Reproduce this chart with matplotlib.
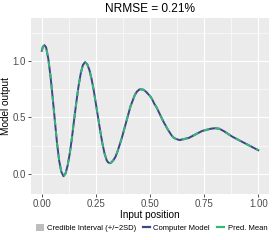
import matplotlib
matplotlib.use("Agg")
import matplotlib.pyplot as plt
from matplotlib.patches import Patch
from matplotlib.lines import Line2D
from matplotlib.ticker import MultipleLocator

plt.rcParams['font.family'] = ['Liberation Sans', 'DejaVu Sans']

# values
input_pos = [0, 0.005, 0.012, 0.02, 0.03, 0.04, 0.05, 0.06, 0.07, 0.08, 0.09, 0.10,
             0.11, 0.12, 0.13, 0.14, 0.15, 0.16, 0.17, 0.18, 0.19, 0.20,
             0.21, 0.22, 0.23, 0.24, 0.25, 0.26, 0.27, 0.28, 0.29, 0.30, 0.305,
             0.313, 0.32, 0.33, 0.34, 0.35, 0.36, 0.37, 0.38, 0.39, 0.40, 0.41,
             0.42, 0.43, 0.44, 0.45, 0.456, 0.47, 0.48, 0.49, 0.50, 0.51, 0.52,
             0.53, 0.54, 0.55, 0.56, 0.57, 0.58, 0.59, 0.60, 0.61, 0.62, 0.636,
             0.66, 0.68, 0.70, 0.72, 0.74, 0.76, 0.78, 0.80, 0.82, 0.84, 0.86,
             0.88, 0.90, 0.92, 0.94, 0.96, 0.98, 1.00]
model_out = [1.09, 1.125, 1.14, 1.12, 1.02, 0.87, 0.68, 0.48, 0.28, 0.12, 0.02, -0.02,
             0.005, 0.08, 0.19, 0.33, 0.49, 0.64, 0.78, 0.89, 0.965, 0.99,
             0.97, 0.92, 0.84, 0.74, 0.62, 0.50, 0.38, 0.27, 0.18, 0.12, 0.105,
             0.095, 0.10, 0.12, 0.15, 0.20, 0.26, 0.32, 0.39, 0.46, 0.53, 0.60,
             0.65, 0.70, 0.73, 0.747, 0.75, 0.745, 0.73, 0.71, 0.69, 0.66, 0.62,
             0.59, 0.55, 0.51, 0.47, 0.435, 0.40, 0.37, 0.34, 0.32, 0.31, 0.30,
             0.31, 0.32, 0.34, 0.36, 0.38, 0.39, 0.40, 0.405, 0.40, 0.38, 0.355,
             0.33, 0.31, 0.29, 0.27, 0.25, 0.23, 0.21]
pred_mean = list(model_out)
ci_sd = [0.003] * len(pred_mean)

ci_lo = [m - 2 * s for m, s in zip(pred_mean, ci_sd)]
ci_hi = [m + 2 * s for m, s in zip(pred_mean, ci_sd)]

blue = '#414487'
green = '#35B779'
ci_col = '#BEBEBE'

fig = plt.figure(figsize=(2.74, 2.40), dpi=100)
ax = fig.add_axes([0.113, 0.192, 0.869, 0.733])
ax.set_facecolor('#EBEBEB')

ax.fill_between(input_pos, ci_lo, ci_hi, color=ci_col, lw=0)
ax.plot(input_pos, model_out, color=blue, lw=1.4, solid_joinstyle='round')
ax.plot(input_pos, pred_mean, color=green, lw=1.4, dashes=(3, 3))

ax.set_xlim(-0.05, 1.05)
ax.set_ylim(-0.177, 1.38)
ax.set_xticks([0, 0.25, 0.5, 0.75, 1.0])
ax.set_xticklabels(['0.00', '0.25', '0.50', '0.75', '1.00'])
ax.set_yticks([0, 0.5, 1.0])
ax.set_yticklabels(['0.0', '0.5', '1.0'])
ax.xaxis.set_minor_locator(MultipleLocator(0.125))
ax.yaxis.set_minor_locator(MultipleLocator(0.25))
ax.grid(True, which='major', color='white', lw=0.8)
ax.grid(True, which='minor', color='white', lw=0.4)
ax.set_axisbelow(True)
for s in ax.spines.values():
    s.set_visible(False)
ax.tick_params(which='major', length=2, width=0.6, color='#333333',
               labelsize=7, labelcolor='#4D4D4D', pad=1.5)
ax.tick_params(which='minor', length=0)

ax.set_xlabel('Input position', fontsize=7.2, labelpad=1)
ax.set_ylabel('Model output', fontsize=7.2, labelpad=1)
ax.set_title('NRMSE = 0.21%', fontsize=8.6, pad=4)

handles = [Patch(facecolor=ci_col, edgecolor='none'),
           Line2D([], [], color=blue, lw=1.6),
           Line2D([], [], color=green, lw=1.6)]
labels = ['Credible Interval (+/\u22122SD)', 'Computer Model', 'Pred. Mean']
fig.legend(handles, labels, loc='center', bbox_to_anchor=(0.553, 0.05), ncol=3,
           frameon=False, fontsize=5.5, handlelength=1.0, handleheight=1.0,
           handletextpad=0.4, columnspacing=0.9, borderaxespad=0)

fig.savefig('out.png', dpi=100)
